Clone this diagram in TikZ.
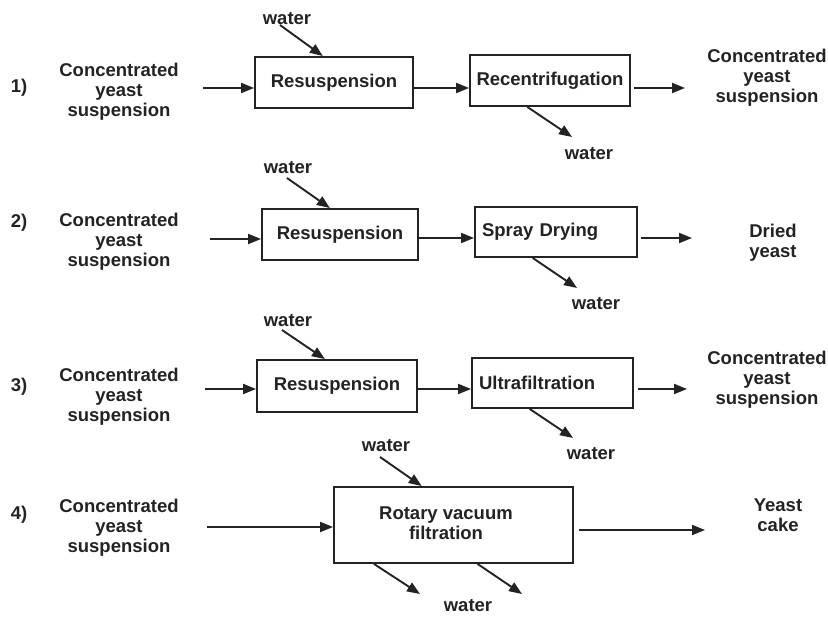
\documentclass[tikz,border=0pt]{standalone}
\usepackage{fontspec}
\setmainfont{Liberation Sans}
\usetikzlibrary{arrows.meta,calc}
\definecolor{ink}{RGB}{35,35,35}
\begin{document}
\begin{tikzpicture}[x=1pt,y=-1pt,
  txt/.style={font=\fontsize{18.5}{20}\selectfont\bfseries, align=center, inner sep=0pt, text=ink},
  box/.style={draw=ink, line width=1.9pt, inner sep=0pt, fill=white,
              font=\fontsize{18.5}{20}\selectfont\bfseries, text=ink, align=center},
  lbox/.style={box, align=left, inner xsep=7pt},
  flow/.style={draw=ink, line width=1.9pt, -{Triangle[length=13pt,width=10pt]}},
]
\useasboundingbox[fill=white] (0,0) rectangle (828,617);

% ---------- Row 1 ----------
\node[txt] (n1) at (19,88) {1)};
\node[txt] (c1) at (119,92) {Concentrated\\yeast\\suspension};
\node[box, minimum width=158pt, minimum height=51pt] (r1) at (334,82.5) {\raisebox{-3pt}{Resuspension}};
\node[box, minimum width=160pt, minimum height=51pt] (rc1) at (550,80.5) {Recentrifugation};
\node[txt] (o1) at (767,78) {Concentrated\\yeast\\suspension};
\node[txt] (w1a) at (287,19) {water};
\node[txt] (w1b) at (589,154) {water};
\coordinate (i1) at (203,88);
\coordinate (e1) at (685,88);
\coordinate (wa1) at (280,25);
\coordinate (wb1) at (572,137);
\draw[flow] (i1) -- (i1 -| r1.west);
\draw[flow] (r1.east |- i1) -- (rc1.west |- i1);
\draw[flow] ($(rc1.east |- i1)+(3,0)$) -- (e1);
\draw[flow] (wa1) -- ($(r1.north west)!0.43!(r1.north east)$);
\draw[flow] ($(rc1.south west)!0.36!(rc1.south east)$) -- (wb1);

% ---------- Row 2 ----------
\node[txt] (n2) at (19,223) {2)};
\node[txt] (c2) at (119,242) {Concentrated\\yeast\\suspension};
\node[box, minimum width=156pt, minimum height=51pt] (r2) at (340,234.5) {Resuspension};
\node[lbox, text width=148pt, minimum height=50pt] (sd2) at (556,232) {Spray Drying};
\node[txt] (o2) at (773,243) {Dried\\yeast};
\node[txt] (w2a) at (288,168) {water};
\node[txt] (w2b) at (596,304) {water};
\coordinate (i2) at (210,239);
\coordinate (m2) at (0,238);
\coordinate (e2) at (692,238);
\coordinate (wa2) at (287,178);
\coordinate (wb2) at (577,288);
\draw[flow] (i2) -- (i2 -| r2.west);
\draw[flow] (r2.east |- m2) -- (sd2.west |- m2);
\draw[flow] ($(sd2.east |- m2)+(3,0)$) -- (e2);
\draw[flow] (wa2) -- ($(r2.north west)!0.436!(r2.north east)$);
\draw[flow] ($(sd2.south west)!0.358!(sd2.south east)$) -- (wb2);

% ---------- Row 3 ----------
\node[txt] (n3) at (19,387) {3)};
\node[txt] (c3) at (119,397) {Concentrated\\yeast\\suspension};
\node[box, minimum width=160pt, minimum height=52pt] (r3) at (337,386) {Resuspension};
\node[lbox, text width=147pt, minimum height=50pt] (uf3) at (552.5,383) {Ultrafiltration};
\node[txt] (o3) at (767,380) {Concentrated\\yeast\\suspension};
\node[txt] (w3a) at (288,321) {water};
\node[txt] (w3b) at (591,454) {water};
\coordinate (i3) at (205,389);
\coordinate (e3) at (687,389);
\coordinate (wa3) at (282,330);
\coordinate (wb3) at (573,438);
\draw[flow] (i3) -- (i3 -| r3.west);
\draw[flow] (r3.east |- i3) -- (uf3.west |- i3);
\draw[flow] ($(uf3.east |- i3)+(4,0)$) -- (e3);
\draw[flow] (wa3) -- ($(r3.north west)!0.425!(r3.north east)$);
\draw[flow] ($(uf3.south west)!0.36!(uf3.south east)$) -- (wb3);

% ---------- Row 4 ----------
\node[txt] (n4) at (19,515) {4)};
\node[txt] (c4) at (119,528) {Concentrated\\yeast\\suspension};
\node[box, minimum width=239pt, minimum height=76pt] (rv4) at (453.5,525) {};
\node[txt] (rvt) at (446,523) {Rotary vacuum\\filtration};
\node[txt] (o4) at (778,515) {Yeast\\cake};
\node[txt] (w4a) at (386,446) {water};
\node[txt] (w4b) at (468,606) {water};
\coordinate (i4) at (207,527);
\coordinate (m4) at (0,530);
\coordinate (e4) at (705,530);
\coordinate (wa4) at (380,457);
\coordinate (wb4) at (420,594);
\coordinate (wc4) at (522,594);
\draw[flow] (i4) -- (i4 -| rv4.west);
\draw[flow] ($(rv4.east |- m4)+(5,0)$) -- (e4);
\draw[flow] (wa4) -- ($(rv4.north west)!0.368!(rv4.north east)$);
\draw[flow] ($(rv4.south west)!0.17!(rv4.south east)$) -- (wb4);
\draw[flow] ($(rv4.south west)!0.6!(rv4.south east)$) -- (wc4);
\end{tikzpicture}
\end{document}
